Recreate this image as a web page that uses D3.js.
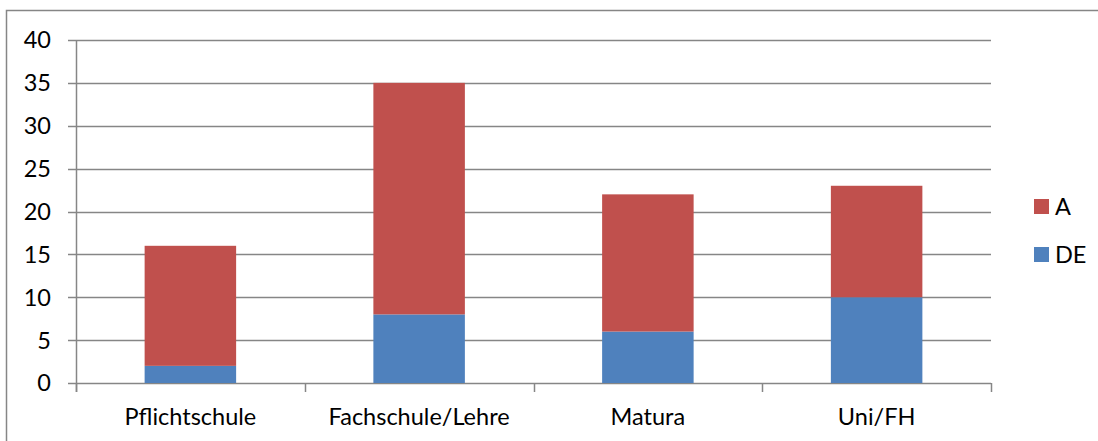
<!DOCTYPE html>
<html><head><meta charset="utf-8">
<script src="https://cdn.jsdelivr.net/npm/d3@7"></script>
<style>body{margin:0;background:#fff}svg{display:block}text{font-family:Lato,"Open Sans",sans-serif;fill:#000}</style>
</head><body>
<svg id="c" width="1098" height="441"></svg>
<script>
const categories = ["Pflichtschule", "Fachschule/Lehre", "Matura", "Uni/FH"];
const seriesNames = ["DE", "A"];
const valuesDE = [2, 8, 6, 10];
const valuesA = [14, 27, 16, 13];
const yTicks = [0, 5, 10, 15, 20, 25, 30, 35, 40];
const colors = {DE: "#4F81BD", A: "#C0504D"};

const svg = d3.select("#c");
const fs = 23.5;
const gridCol = "#868686";

// outer frame
svg.append("rect").attr("x", 6.5).attr("y", 10.5).attr("width", 1200).attr("height", 600)
  .attr("fill", "none").attr("stroke", gridCol).attr("stroke-width", 1.5);

const pLeft = 76, pRight = 991, pTop = 40, pBottom = 383;
const x = d3.scaleBand().domain(categories).range([pLeft, pRight]).padding(0);
const y = d3.scaleLinear().domain([0, 40]).range([pBottom, pTop]);

// gridlines + y ticks
svg.append("g").selectAll("line").data(yTicks).join("line")
  .attr("x1", pLeft - 8).attr("x2", pRight)
  .attr("y1", d => Math.round(y(d)) + 0.5).attr("y2", d => Math.round(y(d)) + 0.5)
  .attr("stroke", gridCol).attr("stroke-width", 1.5);
svg.append("g").selectAll("text").data(yTicks).join("text")
  .attr("x", 51).attr("y", d => y(d)).attr("dy", "0.36em")
  .attr("text-anchor", "end").attr("font-size", fs).text(d => d);

// stacked bars
const rows = categories.map((c, i) => ({cat: c, DE: valuesDE[i], A: valuesA[i]}));
const stack = d3.stack().keys(seriesNames)(rows);
const bw = x.bandwidth() * 0.4;
svg.append("g").selectAll("g").data(stack).join("g")
  .attr("fill", d => colors[d.key])
  .selectAll("rect").data(d => d).join("rect")
  .attr("x", d => x(d.data.cat) + (x.bandwidth() - bw) / 2)
  .attr("width", bw)
  .attr("y", d => y(d[1]))
  .attr("height", d => y(d[0]) - y(d[1]));

// axes lines
svg.append("line").attr("x1", pLeft + 0.5).attr("x2", pLeft + 0.5).attr("y1", pTop).attr("y2", pBottom + 9)
  .attr("stroke", gridCol).attr("stroke-width", 1.5);
const catTicks = categories.map(c => x(c)).concat([pRight]);
svg.append("g").selectAll("line").data(catTicks).join("line")
  .attr("x1", d => Math.round(d) + 0.5).attr("x2", d => Math.round(d) + 0.5)
  .attr("y1", pBottom).attr("y2", pBottom + 9)
  .attr("stroke", gridCol).attr("stroke-width", 1.5);

// category labels
svg.append("g").selectAll("text").data(categories).join("text")
  .attr("x", d => x(d) + x.bandwidth() / 2).attr("y", 425)
  .attr("text-anchor", "middle").attr("font-size", fs).text(d => d);

// legend
const legendItems = ["A", "DE"];
const lg = svg.append("g").selectAll("g").data(legendItems).join("g")
  .attr("transform", (d, i) => `translate(1034, ${199 + i * 48})`);
lg.append("rect").attr("width", 15).attr("height", 15).attr("fill", d => colors[d]);
lg.append("text").attr("x", 21).attr("y", 7.5).attr("dy", "0.36em").attr("font-size", fs).text(d => d);
</script>
</body></html>
